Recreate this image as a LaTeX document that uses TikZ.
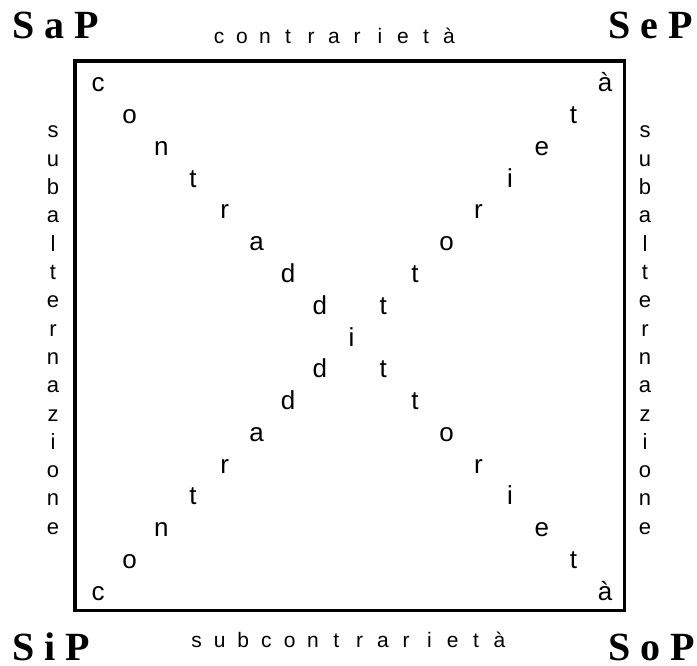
\documentclass[tikz,border=0pt]{standalone}
\usepackage{fontspec}
\setmainfont{Liberation Sans}
\newfontfamily\cornerfont{Liberation Serif}
\begin{document}
\begin{tikzpicture}[x=1pt,y=-1pt,
  diag/.style={inner sep=0pt, anchor=base, font=\fontsize{26}{26}\selectfont},
  side/.style={inner sep=0pt, anchor=base, font=\fontsize{22}{22}\selectfont},
  rel/.style={inner sep=0pt, anchor=base, font=\fontsize{21}{21}\selectfont},
  corner/.style={inner sep=0pt, anchor=base west, font=\cornerfont\bfseries\fontsize{40}{40}\selectfont},
  frame/.style={line width=3.5pt}]
\useasboundingbox (0,0) rectangle (697,666);
% square
\draw[frame] (75,61) rectangle (624.5,610.5);
% corner labels
\node[corner] (sap) at (12,39) {S a P};
\node[corner] (sep) at (608,39) {S e P};
\node[corner] (sip) at (12,660) {S i P};
\node[corner] (sop) at (608,660) {S o P};
% top: contrarieta
\foreach \l [count=\i from 0] in {c,o,n,t,r,a,r,i,e,t,à}
  \node[rel] (top\i) at (219+23*\i,44) {\l};
% bottom: subcontrarieta
\foreach \l [count=\i from 0] in {s,u,b,c,o,n,t,r,a,r,i,e,t,à}
  \node[rel] (bot\i) at (196.5+23.3*\i,647) {\l};
% sides: subalternazione
\foreach \l [count=\i from 0] in {s,u,b,a,l,t,e,r,n,a,z,i,o,n,e}{
  \node[side] (left\i) at (53,138+28.3*\i) {\l};
  \node[side] (right\i) at (645,138+28.3*\i) {\l};
}
% diagonals: contraddittorieta
\foreach \l [count=\i from 0] in {c,o,n,t,r,a,d,d,i,t,t,o,r,i,e,t,à}{
  \node[diag] (da\i) at (98+31.7*\i,92+31.75*\i) {\l};
  \ifnum\i=8\relax\else
  \node[diag] (db\i) at (98+31.7*\i,600-31.75*\i) {\l};
  \fi
}
\end{tikzpicture}
\end{document}
